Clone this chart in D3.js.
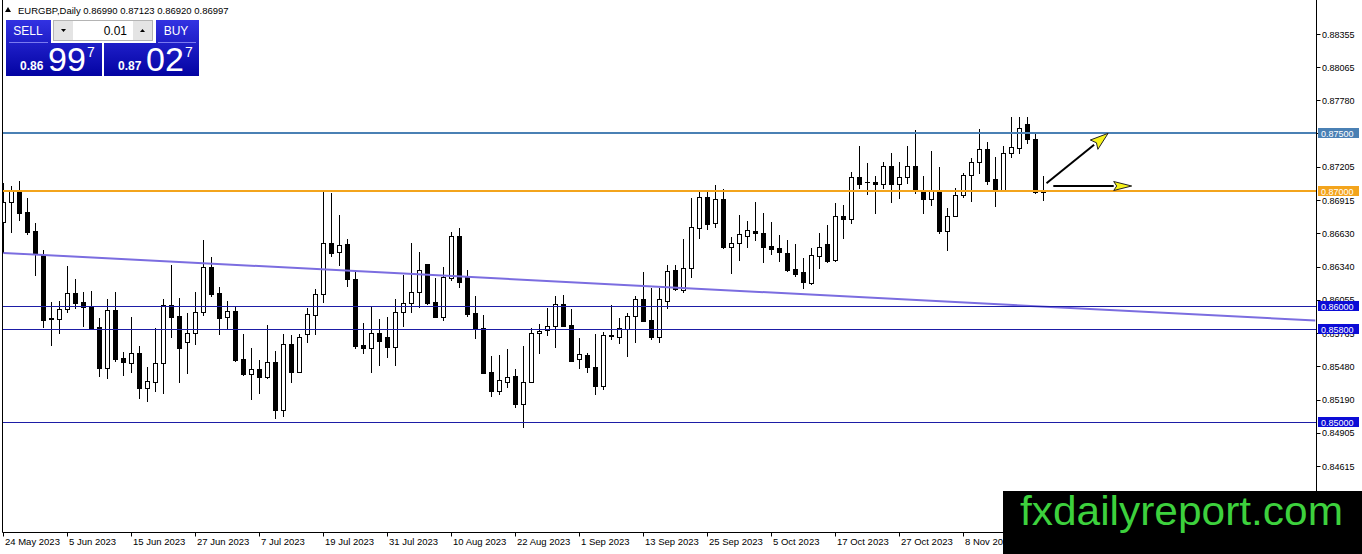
<!DOCTYPE html>
<html>
<head>
<meta charset="utf-8">
<script src="https://cdn.jsdelivr.net/npm/d3@7"></script>
<style>
html, body { margin: 0; padding: 0; background: #fff; overflow: hidden; }
svg { display: block; font-family: "Liberation Sans", Arial, sans-serif; }
</style>
</head>
<body>
<svg id="chart" width="1362" height="554"></svg>
<script>
// EURGBP daily candles, 24 May 2023 .. 22 Nov 2023
const opens = [
  0.86727,0.86903,0.86990,0.86811,0.86649,0.86442,0.85896,0.85885,0.85972,0.86110,
  0.86032,0.85994,0.85818,0.85466,0.85966,0.85547,0.85509,0.85593,0.85293,0.85345,
  0.85504,0.86006,0.85914,0.85691,0.85764,0.85946,0.86340,0.86110,0.85908,0.85957,
  0.85541,0.85409,0.85455,0.85383,0.85518,0.85100,0.85671,0.85431,0.85758,0.85922,
  0.86102,0.86543,0.86465,0.86537,0.86234,0.85662,0.85634,0.85764,0.85729,0.85648,
  0.85946,0.86024,0.86119,0.86361,0.86032,0.85908,0.86245,0.86606,0.86248,0.85937,
  0.85807,0.85431,0.85267,0.85345,0.85394,0.85152,0.85345,0.85764,0.85790,0.85827,
  0.86015,0.85836,0.85539,0.85573,0.85469,0.85307,0.85743,0.85729,0.85798,0.85914,
  0.86061,0.85879,0.85734,0.86044,0.86309,0.86139,0.86326,0.86673,0.86941,0.86716,
  0.86924,0.86514,0.86543,0.86609,0.86649,0.86632,0.86520,0.86505,0.86462,0.86320,
  0.86292,0.86202,0.86436,0.86534,0.86398,0.86779,0.86751,0.87114,0.87076,0.87076,
  0.87054,0.87212,0.87054,0.87120,0.87212,0.87005,0.86924,0.87005,0.86652,0.86779,
  0.86959,0.87132,0.87244,0.87357,0.87099,0.87005,0.87322,0.87365,0.87576,0.87443,0.86990
];
const highs = [
  0.87065,0.87039,0.87082,0.86933,0.86716,0.86485,0.86038,0.86044,0.86346,0.86234,
  0.86122,0.86133,0.85894,0.86063,0.86122,0.85602,0.85908,0.85654,0.85475,0.85807,
  0.86061,0.86352,0.86072,0.85937,0.86124,0.86572,0.86422,0.86167,0.86044,0.85994,
  0.85758,0.85634,0.85533,0.85836,0.85611,0.85758,0.85749,0.85755,0.85980,0.86145,
  0.86990,0.86976,0.86788,0.86578,0.86312,0.85850,0.85994,0.85888,0.85908,0.86058,
  0.86268,0.86548,0.86470,0.86361,0.86245,0.86340,0.86643,0.86673,0.86312,0.86087,
  0.85922,0.85567,0.85576,0.85628,0.85452,0.85654,0.85807,0.85842,0.85986,0.86087,
  0.86096,0.85972,0.85721,0.85596,0.85755,0.85778,0.86009,0.85894,0.85937,0.86089,
  0.86297,0.86154,0.86154,0.86355,0.86355,0.86578,0.86933,0.86990,0.86990,0.87048,
  0.87013,0.86600,0.86788,0.86736,0.86898,0.86803,0.86725,0.86615,0.86572,0.86537,
  0.86413,0.86500,0.86630,0.86701,0.86889,0.86875,0.87163,0.87385,0.87235,0.87127,
  0.87249,0.87322,0.87244,0.87385,0.87524,0.87127,0.87345,0.87201,0.86846,0.87019,
  0.87149,0.87279,0.87530,0.87417,0.87287,0.87385,0.87634,0.87634,0.87639,0.87495,0.87123
];
const lows = [
  0.86468,0.86643,0.86745,0.86624,0.86268,0.85821,0.85663,0.85764,0.85951,0.85986,
  0.85827,0.85805,0.85394,0.85379,0.85524,0.85403,0.85431,0.85206,0.85180,0.85264,
  0.85244,0.85734,0.85345,0.85423,0.85669,0.85922,0.86087,0.85758,0.85798,0.85524,
  0.85407,0.85193,0.85244,0.85380,0.85033,0.85051,0.85345,0.85426,0.85689,0.85755,
  0.86038,0.86433,0.86355,0.86176,0.85639,0.85596,0.85431,0.85489,0.85557,0.85489,
  0.85827,0.85951,0.85994,0.86018,0.85906,0.85879,0.86225,0.86162,0.85916,0.85726,
  0.85420,0.85223,0.85236,0.85301,0.85129,0.84950,0.85343,0.85596,0.85749,0.85648,
  0.85828,0.85525,0.85466,0.85426,0.85236,0.85279,0.85712,0.85677,0.85570,0.85691,
  0.85871,0.85714,0.85689,0.85983,0.86139,0.86124,0.86254,0.86591,0.86667,0.86687,
  0.86500,0.86286,0.86398,0.86514,0.86572,0.86384,0.86451,0.86392,0.86306,0.86262,
  0.86154,0.86190,0.86326,0.86384,0.86392,0.86591,0.86721,0.87024,0.86967,0.86808,
  0.87024,0.86898,0.86938,0.87061,0.86981,0.86808,0.86875,0.86630,0.86485,0.86777,
  0.86941,0.86912,0.87152,0.87056,0.86866,0.87003,0.87293,0.87327,0.87414,0.86981,0.86920
];
const closes = [
  0.86901,0.87005,0.86803,0.86638,0.86456,0.85879,0.85885,0.85972,0.86110,0.86029,
  0.85989,0.85807,0.85466,0.85966,0.85539,0.85518,0.85591,0.85293,0.85351,0.85509,
  0.86009,0.85908,0.85639,0.85764,0.85946,0.86340,0.86104,0.85899,0.85957,0.85533,
  0.85409,0.85455,0.85383,0.85513,0.85100,0.85671,0.85431,0.85729,0.85928,0.86102,
  0.86543,0.86456,0.86526,0.86232,0.85656,0.85634,0.85764,0.85700,0.85648,0.85946,
  0.86024,0.86119,0.86312,0.86029,0.85908,0.86254,0.86606,0.86210,0.85931,0.85807,
  0.85423,0.85267,0.85359,0.85388,0.85152,0.85342,0.85764,0.85781,0.85827,0.86015,
  0.85830,0.85527,0.85585,0.85469,0.85307,0.85749,0.85752,0.85807,0.85914,0.86061,
  0.85873,0.85734,0.86058,0.86303,0.86145,0.86326,0.86682,0.86941,0.86707,0.86924,
  0.86514,0.86543,0.86621,0.86658,0.86635,0.86514,0.86496,0.86470,0.86312,0.86274,
  0.86210,0.86442,0.86514,0.86392,0.86779,0.86751,0.87114,0.87054,0.87071,0.87054,
  0.87212,0.87054,0.87120,0.87212,0.87005,0.86924,0.87005,0.86652,0.86779,0.86959,
  0.87132,0.87244,0.87357,0.87085,0.87005,0.87322,0.87379,0.87539,0.87443,0.86990,0.86997
];

// time axis labels, one every 8 bars
const dateLabels = ["24 May 2023","5 Jun 2023","15 Jun 2023","27 Jun 2023","7 Jul 2023",
  "19 Jul 2023","31 Jul 2023","10 Aug 2023","22 Aug 2023","1 Sep 2023","13 Sep 2023",
  "25 Sep 2023","5 Oct 2023","17 Oct 2023","27 Oct 2023","8 Nov 2023","20 Nov 2023"];
const labelStep = 8;

// price scale labels
const priceTicks = [0.88355,0.88065,0.87780,0.87495,0.87205,0.86915,0.86630,0.86340,
  0.86055,0.85765,0.85480,0.85190,0.84905,0.84615];

// horizontal levels drawn on the chart
const levelPrices = [0.87500, 0.87000, 0.86000, 0.85800, 0.85000];

// trend line anchors (bar index, price)
const trendBars = [0, 164];
const trendPrices = [0.86460, 0.85874];

// arrows: [startBar, startPrice, endBar, endPrice]
const arrowUp = [130.4, 0.87063, 138.1, 0.87495];
const arrowRight = [131.25, 0.87039, 141.05, 0.87039];

// quote header / one-click panel text
const symbolTitle = "EURGBP,Daily";
const lastBar = ["0.86990","0.87123","0.86920","0.86997"];
const sellQuote = ["0.86", "99", "7"];
const buyQuote = ["0.87", "02", "7"];
const lotSize = "0.01";

const svg = d3.select("#chart");
const W = 1362, H = 554;
const plotL = 2.5, plotT = 0.5, plotR = 1316.5, plotB = 532.5;

const x = d3.scaleLinear().domain([0, 164]).range([3.3, 3.3 + 8 * 164]);
const y = d3.scaleLinear().domain([0.84615, 0.88355]).range([466, 34]);

const defs = svg.append("defs");
defs.append("clipPath").attr("id", "plotClip")
  .append("rect").attr("x", plotL + 0.5).attr("y", plotT).attr("width", plotR - plotL - 1).attr("height", plotB - plotT);
const grad = defs.append("linearGradient").attr("id", "btnGrad")
  .attr("x1", 0).attr("y1", 0).attr("x2", 0).attr("y2", 1);
grad.append("stop").attr("offset", 0).attr("stop-color", "#3232e2");
grad.append("stop").attr("offset", 1).attr("stop-color", "#0303a2");

svg.append("rect").attr("width", W).attr("height", H).attr("fill", "#fff");

// candles
const candles = opens.map((o, i) => ({ i, o, h: highs[i], l: lows[i], c: closes[i] }));
const cg = svg.append("g").attr("clip-path", "url(#plotClip)");
const cx = d => Math.floor(x(d.i));
cg.selectAll("line.wick").data(candles).join("line")
  .attr("class", "wick")
  .attr("x1", d => cx(d) + 0.5).attr("x2", d => cx(d) + 0.5)
  .attr("y1", d => Math.round(y(d.h))).attr("y2", d => Math.round(y(d.l)) + 1)
  .attr("stroke", "#000").attr("stroke-width", 1);
cg.selectAll("rect.body").data(candles).join("rect")
  .attr("class", "body")
  .attr("x", d => cx(d) - 1.5)
  .attr("y", d => Math.round(y(Math.max(d.o, d.c))) + 0.5)
  .attr("width", 4)
  .attr("height", d => Math.max(0.01, Math.round(y(Math.min(d.o, d.c))) - Math.round(y(Math.max(d.o, d.c)))))
  .attr("fill", d => d.c >= d.o ? "#fff" : "#000")
  .attr("stroke", "#000").attr("stroke-width", 1);

// objects: trend line and horizontal levels
const og = svg.append("g").attr("clip-path", "url(#plotClip)");
og.append("line")
  .attr("x1", x(trendBars[0])).attr("y1", y(trendPrices[0]))
  .attr("x2", x(trendBars[1])).attr("y2", y(trendPrices[1]))
  .attr("stroke", "#7b6de0").attr("stroke-width", 2);

const levelStyle = [
  { line: "#4a80b4", box: "#4a80b4", w: 2 },
  { line: "#f3a41c", box: "#f3a41c", w: 2 },
  { line: "#1d1da6", box: "#0c0cd6", w: 1 },
  { line: "#1d1da6", box: "#0c0cd6", w: 1 },
  { line: "#1d1da6", box: "#0c0cd6", w: 1 }
];
levelPrices.forEach((p, k) => {
  const yy = Math.round(y(p)) + (levelStyle[k].w === 1 ? 0.5 : 0);
  og.append("line").attr("x1", plotL).attr("x2", plotR).attr("y1", yy).attr("y2", yy)
    .attr("stroke", levelStyle[k].line).attr("stroke-width", levelStyle[k].w);
});

// arrows
function drawArrow(a, headLen, headHalf) {
  const x1 = x(a[0]), y1 = y(a[1]), x2 = x(a[2]), y2 = y(a[3]);
  const dx = x2 - x1, dy = y2 - y1, len = Math.hypot(dx, dy);
  const ux = dx / len, uy = dy / len, nx = -uy, ny = ux;
  const bx = x2 - ux * headLen, by = y2 - uy * headLen;
  svg.append("line").attr("x1", x1).attr("y1", y1).attr("x2", bx).attr("y2", by)
    .attr("stroke", "#000").attr("stroke-width", 2);
  svg.append("polygon")
    .attr("points", [[x2, y2], [bx + nx * headHalf, by + ny * headHalf], [bx + ux * 3, by + uy * 3], [bx - nx * headHalf, by - ny * headHalf]].map(p => p.join(",")).join(" "))
    .attr("fill", "#f6f21a").attr("stroke", "#222").attr("stroke-width", 1);
}
drawArrow(arrowUp, 18, 6);
drawArrow(arrowRight, 18, 4.5);

// frame
svg.append("line").attr("x1", plotL).attr("x2", plotL).attr("y1", 0).attr("y2", plotB).attr("stroke", "#000");
svg.append("line").attr("x1", plotR).attr("x2", plotR).attr("y1", 0).attr("y2", plotB).attr("stroke", "#000");
svg.append("line").attr("x1", plotL).attr("x2", plotR).attr("y1", plotB).attr("y2", plotB).attr("stroke", "#000");

// price axis
const pa = svg.append("g").attr("font-size", 9).attr("fill", "#000");
pa.selectAll("line").data(priceTicks).join("line")
  .attr("x1", plotR).attr("x2", plotR + 4)
  .attr("y1", d => Math.round(y(d)) + 0.5).attr("y2", d => Math.round(y(d)) + 0.5)
  .attr("stroke", "#000");
pa.selectAll("text").data(priceTicks).join("text")
  .attr("x", 1322).attr("y", d => y(d) + 3.5)
  .text(d => d.toFixed(5));

// level labels on the price axis
levelPrices.forEach((p, k) => {
  const yy = Math.round(y(p));
  svg.append("rect").attr("x", 1318).attr("y", yy - 5).attr("width", 41).attr("height", 10)
    .attr("fill", levelStyle[k].box);
  svg.append("text").attr("x", 1321).attr("y", yy + 3.5).attr("font-size", 9)
    .attr("fill", "#fff").text(p.toFixed(5));
});

// time axis
const ta = svg.append("g").attr("font-size", 9.5).attr("fill", "#000");
ta.selectAll("line").data(dateLabels).join("line")
  .attr("x1", (d, k) => Math.floor(x(k * labelStep)) + 0.5).attr("x2", (d, k) => Math.floor(x(k * labelStep)) + 0.5)
  .attr("y1", plotB).attr("y2", plotB + 4).attr("stroke", "#000");
ta.selectAll("text").data(dateLabels).join("text")
  .attr("x", (d, k) => Math.floor(x(k * labelStep)) + 2).attr("y", 545)
  .text(d => d);

// header
svg.append("polygon").attr("points", "5,12 8,7 11,12").attr("fill", "#000");
svg.append("text").attr("x", 18).attr("y", 14).attr("font-size", 9.5)
  .text(symbolTitle + "  " + lastBar.join(" "));

// one-click trading panel
const panel = svg.append("g");
panel.append("rect").attr("x", 6).attr("y", 20).attr("width", 96).attr("height", 56).attr("fill", "url(#btnGrad)");
panel.append("rect").attr("x", 104).attr("y", 20).attr("width", 95).attr("height", 56).attr("fill", "url(#btnGrad)");
panel.append("rect").attr("x", 51).attr("y", 19).attr("width", 105).attr("height", 24).attr("fill", "#fff");
panel.append("rect").attr("x", 53.5).attr("y", 20.5).attr("width", 99).attr("height", 20).attr("fill", "#fff").attr("stroke", "#b4b4b4");
panel.append("rect").attr("x", 54).attr("y", 21).attr("width", 19).attr("height", 19).attr("fill", "#e4e4e4");
panel.append("rect").attr("x", 133).attr("y", 21).attr("width", 19).attr("height", 19).attr("fill", "#e4e4e4");
panel.append("polygon").attr("points", "61,29 66,29 63.5,32").attr("fill", "#000");
panel.append("polygon").attr("points", "140,32 145,32 142.5,29").attr("fill", "#000");
panel.append("text").attr("x", 127).attr("y", 35).attr("text-anchor", "end").attr("font-size", 12).text(lotSize);
panel.append("line").attr("x1", 9).attr("x2", 48).attr("y1", 42.5).attr("y2", 42.5).attr("stroke", "#7a7af0");
panel.append("line").attr("x1", 158).attr("x2", 196).attr("y1", 42.5).attr("y2", 42.5).attr("stroke", "#7a7af0");
panel.append("text").attr("x", 28).attr("y", 35).attr("text-anchor", "middle").attr("font-size", 12).attr("fill", "#fff").text("SELL");
panel.append("text").attr("x", 176).attr("y", 35).attr("text-anchor", "middle").attr("font-size", 12).attr("fill", "#fff").text("BUY");
[[sellQuote, 6], [buyQuote, 104]].forEach(([q, x0]) => {
  panel.append("text").attr("x", x0 + 14).attr("y", 70).attr("font-size", 12).attr("font-weight", "bold").attr("fill", "#fff").text(q[0]);
  panel.append("text").attr("x", x0 + 42).attr("y", 71).attr("font-size", 34).attr("fill", "#fff").text(q[1]);
  panel.append("text").attr("x", x0 + 81).attr("y", 57).attr("font-size", 14).attr("fill", "#fff").text(q[2]);
});

// watermark
svg.append("rect").attr("x", 1003).attr("y", 491).attr("width", W - 1003).attr("height", H - 491).attr("fill", "#000");
svg.append("text").attr("x", 1020).attr("y", 525).attr("font-size", 40).attr("fill", "#3dd13d")
  .attr("textLength", 323).attr("lengthAdjust", "spacingAndGlyphs").text("fxdailyreport.com");
</script>
</body>
</html>
